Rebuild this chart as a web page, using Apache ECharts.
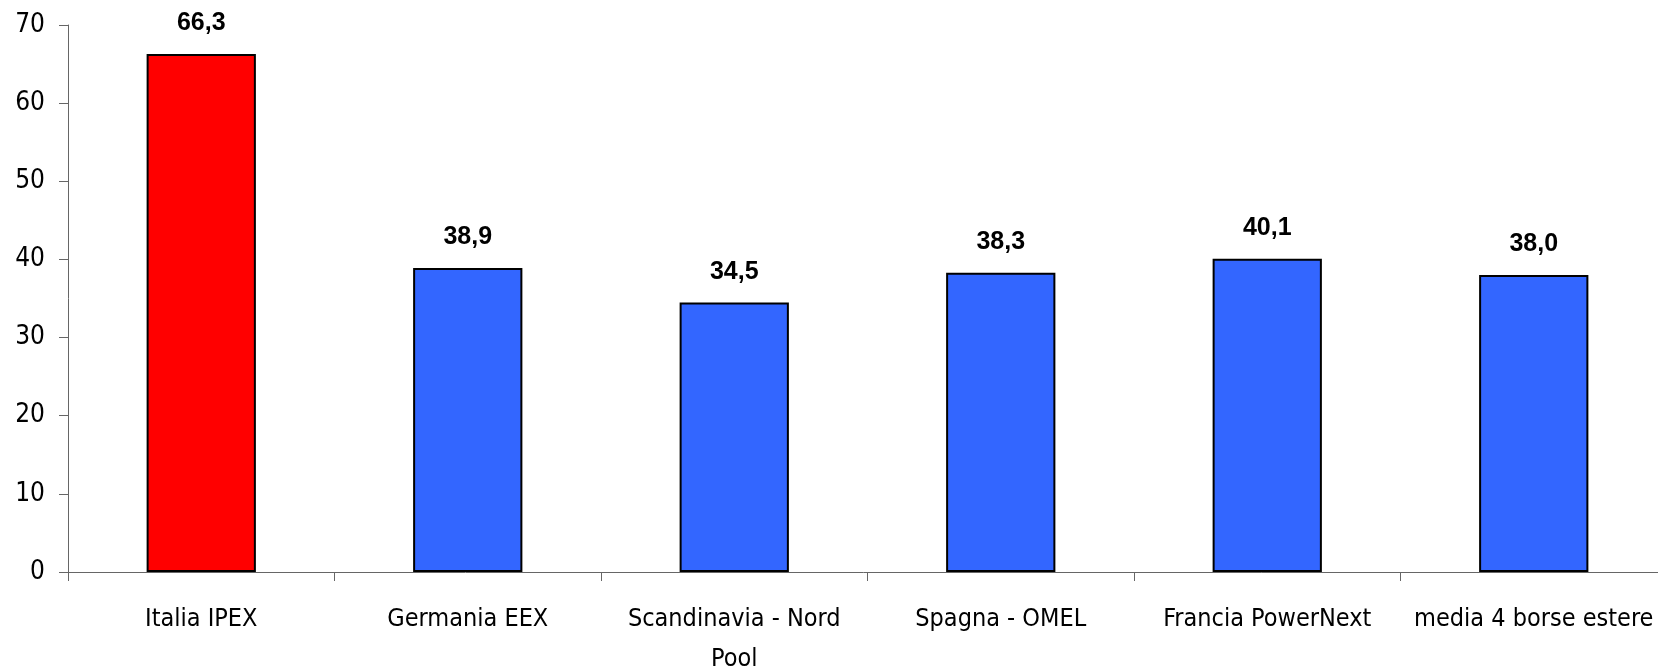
<!DOCTYPE html>
<html>
<head>
<meta charset="utf-8">
<script src="https://cdn.jsdelivr.net/npm/echarts@6/dist/echarts.min.js"></script>
<style>
html, body { margin: 0; padding: 0; background: #fff; }
#chart { width: 1658px; height: 668px; }
</style>
</head>
<body>
<div id="chart"></div>
<script>
var categories = ['Italia IPEX', 'Germania EEX', 'Scandinavia - Nord\nPool', 'Spagna - OMEL', 'Francia PowerNext', 'media 4 borse estere'];
var values = [66.3, 38.9, 34.5, 38.3, 40.1, 38.0];
var barColors = ['#ff0000', '#3366ff', '#3366ff', '#3366ff', '#3366ff', '#3366ff'];
var yTicks = { min: 0, max: 70, interval: 10 };

// narrow face like the original; falls back to plain sans
var narrow = "'Liberation Sans Narrow', 'DejaVu Sans Condensed', 'Roboto Condensed', 'Liberation Sans', sans-serif";

var chart = echarts.init(document.getElementById('chart'));
var option = {
	animation: false,
	grid: { left: 68, top: 25, bottom: 96, right: -9, outerBoundsMode: 'none', containLabel: false },
	xAxis: {
		type: 'category',
		data: categories,
		boundaryGap: true,
		axisLine: { lineStyle: { color: '#666', width: 1 } },
		axisTick: { show: true, length: 9, lineStyle: { color: '#666' } },
		axisLabel: {
			color: '#000',
			fontFamily: narrow,
			fontSize: 25,
			margin: 27,
			lineHeight: 40,
			interval: 0
		}
	},
	yAxis: {
		type: 'value',
		min: yTicks.min,
		max: yTicks.max,
		interval: yTicks.interval,
		splitLine: { show: false },
		axisLine: { show: true, lineStyle: { color: '#666', width: 1 } },
		axisTick: { show: true, length: 9, lineStyle: { color: '#666' } },
		axisLabel: {
			color: '#000',
			fontFamily: narrow,
			fontSize: 26,
			margin: 23
		}
	},
	series: [{
		type: 'bar',
		barWidth: '41%',
		data: values.map(function (v, i) {
			return { value: v, itemStyle: { color: barColors[i] } };
		}),
		itemStyle: { borderColor: '#000', borderWidth: 2 },
		label: {
			show: true,
			position: 'top',
			distance: 18,
			color: '#000',
			fontFamily: "'Liberation Sans', Arial, sans-serif",
			fontWeight: 'bold',
			fontSize: 25,
			formatter: function (p) {
				return p.value.toFixed(1).replace('.', ',');
			}
		}
	}]
};
chart.setOption(option);
</script>
</body>
</html>
